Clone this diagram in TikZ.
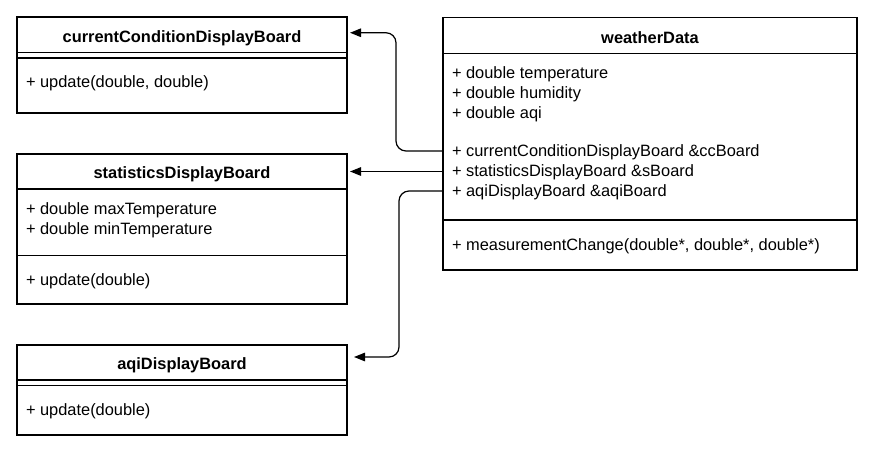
\documentclass[tikz,border=0pt]{standalone}
\usepackage{fontspec}
\setmainfont{Liberation Sans}
\usetikzlibrary{arrows.meta,calc}
\begin{document}
\begin{tikzpicture}[x=1pt,y=-1pt,
  every node/.style={font=\fontsize{16.4}{19.6}\selectfont, inner sep=0pt, outer sep=0pt},
  part/.style={draw=black, line width=1.1pt, rectangle, anchor=north west},
  txt/.style={anchor=west, text height=15.7pt, text depth=3.4pt},
  ttl/.style={text height=15.2pt, text depth=3.4pt, font=\fontsize{16.4}{19.6}\selectfont\bfseries},
  conn/.style={draw=black, line width=1.2pt, rounded corners=10pt, -{Triangle[length=11pt,width=8.5pt]}},
  sepline/.style={draw=black, line width=1.1pt}
]
\useasboundingbox[fill=white] (0,0) rectangle (873,458);

% currentConditionDisplayBoard
\node[part, minimum width=330pt, minimum height=35.5pt] (ccH) at (17,17) {};
\node[part, minimum width=330pt, minimum height=60.5pt] (ccB) at (17,52.5) {};
\draw[sepline] ($(ccB.north west)+(0,5.5)$) -- ($(ccB.north east)+(0,5.5)$);
\node[ttl] (ccT) at ($(ccH.center)+(0,2)$) {currentConditionDisplayBoard};
\node[txt] (ccM) at (26,81.7) {+ update(double, double)};

% statisticsDisplayBoard
\node[part, minimum width=330pt, minimum height=35pt] (stH) at (17,154) {};
\node[part, minimum width=330pt, minimum height=66.7pt] (stA) at (17,189) {};
\node[part, minimum width=330pt, minimum height=48.3pt] (stM) at (17,255.7) {};
\node[ttl] (stT) at ($(stH.center)+(0,1)$) {statisticsDisplayBoard};
\node[txt] (st1) at (26,208) {+ double maxTemperature};
\node[txt] (st2) at (26,228) {+ double minTemperature};
\node[txt] (st3) at (26,279.3) {+ update(double)};

% aqiDisplayBoard
\node[part, minimum width=330pt, minimum height=35pt] (aqH) at (17,345) {};
\node[part, minimum width=330pt, minimum height=55pt] (aqB) at (17,380) {};
\draw[sepline] ($(aqB.north west)+(0,5.7)$) -- ($(aqB.north east)+(0,5.7)$);
\node[ttl] (aqT) at ($(aqH.center)+(0,1)$) {aqiDisplayBoard};
\node[txt] (aqM) at (26,409.3) {+ update(double)};

% weatherData
\node[part, minimum width=414pt, minimum height=36pt] (wdH) at (443,17.7) {};
\node[part, minimum width=414pt, minimum height=166.3pt] (wdA) at (443,53.7) {};
\node[part, minimum width=414pt, minimum height=50pt] (wdM) at (443,220) {};
\node[ttl] (wdT) at ($(wdH.center)+(0,2)$) {weatherData};
\node[txt] (w1) at (452,72.8) {+ double temperature};
\node[txt] (w2) at (452,92.5) {+ double humidity};
\node[txt] (w3) at (452,112) {+ double aqi};
\node[txt] (wcc) at (452,150.7) {+ currentConditionDisplayBoard \&ccBoard};
\node[txt] (wst) at (452,170.7) {+ statisticsDisplayBoard \&sBoard};
\node[txt] (waq) at (452,190.5) {+ aqiDisplayBoard \&aqiBoard};
\node[txt] (wm) at (452,244) {+ measurementChange(double*, double*, double*)};

% connectors
\draw[conn, shorten >=3pt] (wdA.west |- 0,151) -| ($(ccH.east)+(49,-2)$) -- ($(ccH.east)+(0,-2)$);
\draw[conn, shorten >=3pt] (wdA.west |- stH.east) -- (stH.east);
\draw[conn, shorten >=7pt] (wdA.west |- 0,191) -| ($(aqH.east)+(52,-5.5)$) -- ($(aqH.east)+(0,-5.5)$);
\end{tikzpicture}
\end{document}
